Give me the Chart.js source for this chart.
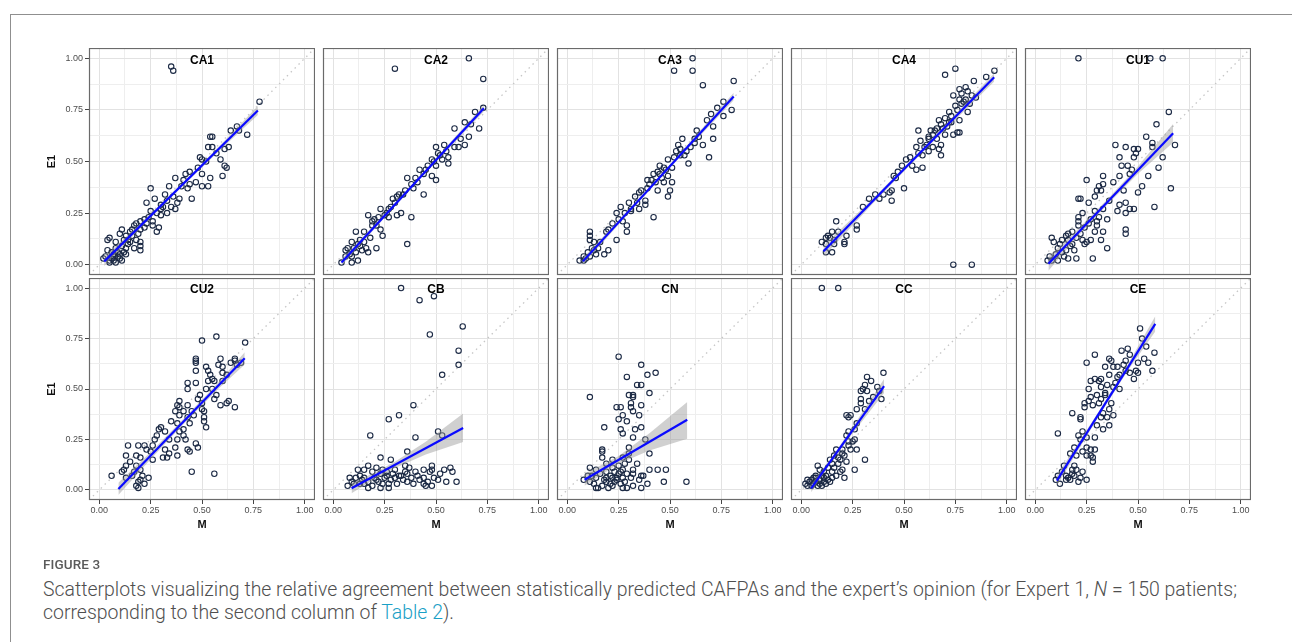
<!DOCTYPE html>
<html>
<head>
<meta charset="utf-8">
<script src="https://cdn.jsdelivr.net/npm/chart.js@4.4.1/dist/chart.umd.min.js"></script>
<style>
  body { margin: 0; background: #fff; width: 1292px; height: 642px; overflow: hidden; position: relative; }
  #frame { position: absolute; left: 10px; top: 14px; width: 1320px; height: 700px; border: 1px solid #8f8f8f; }
  canvas { position: absolute; }
  .fig-no { position: absolute; left: 43px; top: 556px; font: 500 13.5px "Roboto", "Noto Sans", sans-serif; color: #5a5a5a; letter-spacing: 0.1px; }
  .fig-text { position: absolute; left: 43px; top: 578px; font-family: "Roboto", "Noto Sans", sans-serif; font-weight: 300; font-size: 16px; line-height: 23px; color: #4f4f4f; white-space: nowrap; }
  .fig-text a { color: #1aa0c6; text-decoration: none; }
</style>
</head>
<body>
<div id="frame"></div>
<div id="panels"></div>
<div class="fig-no">FIGURE 3</div>
<div class="fig-text" id="caption"><span id="capLine1">Scatterplots visualizing the relative agreement between statistically predicted CAFPAs and the expert’s opinion (for Expert 1, <i>N</i> = 150 patients;</span><br>corresponding to the second column of <a>Table 2</a>).</div>

<script>
// axis ticks (major ones get labels)
const gridTicks = [0, 0.125, 0.25, 0.375, 0.5, 0.625, 0.75, 0.875, 1];
const majorTicks = [0, 0.25, 0.5, 0.75, 1];
const tickLabels = ['0.00', '0.25', '0.50', '0.75', '1.00'];
const axisRange = [-0.05, 1.05];
const identityLine = [-0.05, 1.05]; // x = y reference
const xTitle = 'M';
const yTitle = 'E1';

const panelNames = ['CA1', 'CA2', 'CA3', 'CA4', 'CU1', 'CU2', 'CB', 'CN', 'CC', 'CE'];

// [M, E1]
const ptsCA1 = [[0.35,0.96],[0.36,0.94],[0.78,0.79],[0.64,0.65],[0.67,0.67],[0.72,0.63],[0.54,0.62],[0.55,0.62],[0.53,0.57],[0.55,0.57],[0.63,0.57],[0.49,0.52],[0.50,0.51],[0.59,0.51],[0.61,0.48],[0.62,0.47],[0.60,0.43],[0.54,0.42],[0.50,0.38],[0.53,0.38],[0.42,0.44],[0.44,0.45],[0.44,0.39],[0.41,0.41],[0.37,0.42],[0.34,0.38],[0.25,0.37],[0.32,0.34],[0.27,0.32],[0.23,0.30],[0.38,0.30],[0.45,0.32],[0.35,0.28],[0.31,0.28],[0.30,0.27],[0.28,0.25],[0.24,0.23],[0.22,0.22],[0.20,0.21],[0.18,0.20],[0.17,0.19],[0.20,0.17],[0.28,0.16],[0.29,0.18],[0.15,0.16],[0.16,0.17],[0.11,0.17],[0.10,0.15],[0.13,0.14],[0.14,0.12],[0.20,0.11],[0.20,0.09],[0.20,0.07],[0.05,0.13],[0.04,0.12],[0.08,0.11],[0.11,0.09],[0.13,0.08],[0.17,0.08],[0.09,0.06],[0.06,0.06],[0.03,0.04],[0.02,0.03],[0.05,0.02],[0.07,0.02],[0.10,0.03],[0.11,0.02],[0.07,0.04],[0.05,0.01],[0.08,0.01],[0.10,0.05],[0.15,0.11],[0.18,0.12],[0.23,0.20],[0.26,0.21],[0.30,0.24],[0.33,0.25],[0.37,0.27],[0.39,0.32],[0.43,0.37],[0.47,0.40],[0.50,0.44],[0.57,0.54],[0.61,0.56],[0.68,0.65],[0.13,0.05],[0.08,0.08],[0.16,0.14],[0.26,0.19],[0.30,0.29],[0.07,0.05],[0.06,0.03],[0.09,0.04],[0.12,0.06],[0.04,0.07],[0.14,0.10],[0.12,0.12],[0.19,0.15],[0.22,0.18],[0.25,0.26],[0.33,0.31],[0.36,0.33],[0.40,0.38],[0.48,0.47],[0.52,0.50]];
const ptsCA2 = [[0.66,1.00],[0.30,0.95],[0.73,0.90],[0.73,0.76],[0.69,0.74],[0.64,0.69],[0.67,0.68],[0.59,0.66],[0.71,0.66],[0.66,0.62],[0.54,0.58],[0.50,0.57],[0.61,0.57],[0.64,0.58],[0.51,0.54],[0.52,0.53],[0.56,0.52],[0.48,0.51],[0.56,0.49],[0.50,0.48],[0.46,0.48],[0.42,0.46],[0.48,0.43],[0.50,0.41],[0.36,0.42],[0.40,0.42],[0.41,0.40],[0.39,0.37],[0.44,0.34],[0.31,0.33],[0.34,0.34],[0.30,0.30],[0.27,0.27],[0.25,0.24],[0.33,0.25],[0.31,0.24],[0.22,0.23],[0.19,0.21],[0.17,0.24],[0.23,0.27],[0.19,0.19],[0.38,0.23],[0.24,0.14],[0.36,0.10],[0.21,0.08],[0.15,0.16],[0.11,0.16],[0.13,0.12],[0.09,0.11],[0.15,0.11],[0.12,0.10],[0.07,0.08],[0.16,0.08],[0.14,0.07],[0.11,0.06],[0.09,0.04],[0.04,0.01],[0.09,0.01],[0.12,0.02],[0.06,0.04],[0.06,0.07],[0.17,0.06],[0.20,0.22],[0.23,0.17],[0.27,0.23],[0.29,0.32],[0.32,0.34],[0.44,0.44],[0.53,0.51],[0.49,0.50],[0.59,0.57],[0.62,0.61],[0.08,0.05],[0.10,0.08],[0.13,0.09],[0.18,0.13],[0.21,0.19],[0.26,0.25],[0.28,0.28],[0.35,0.36],[0.38,0.39],[0.45,0.46],[0.55,0.55]];
const ptsCA3 = [[0.61,1.00],[0.52,0.94],[0.61,0.94],[0.66,0.87],[0.81,0.89],[0.76,0.79],[0.80,0.75],[0.76,0.72],[0.73,0.76],[0.70,0.73],[0.68,0.70],[0.71,0.67],[0.63,0.65],[0.71,0.61],[0.64,0.62],[0.66,0.58],[0.69,0.52],[0.62,0.59],[0.56,0.61],[0.54,0.58],[0.53,0.55],[0.55,0.53],[0.57,0.53],[0.59,0.49],[0.49,0.51],[0.45,0.48],[0.48,0.46],[0.44,0.45],[0.42,0.44],[0.49,0.43],[0.51,0.40],[0.47,0.40],[0.43,0.40],[0.39,0.41],[0.39,0.37],[0.44,0.36],[0.50,0.36],[0.49,0.33],[0.35,0.35],[0.34,0.30],[0.30,0.30],[0.26,0.28],[0.38,0.29],[0.38,0.31],[0.35,0.27],[0.31,0.26],[0.28,0.25],[0.24,0.25],[0.22,0.20],[0.27,0.21],[0.29,0.19],[0.29,0.16],[0.24,0.12],[0.42,0.23],[0.19,0.16],[0.16,0.11],[0.20,0.07],[0.18,0.05],[0.11,0.16],[0.11,0.14],[0.11,0.12],[0.13,0.11],[0.12,0.08],[0.10,0.06],[0.08,0.04],[0.06,0.02],[0.08,0.02],[0.14,0.05],[0.11,0.04],[0.15,0.08],[0.31,0.27],[0.33,0.33],[0.41,0.41],[0.46,0.42],[0.52,0.52],[0.60,0.57],[0.62,0.61],[0.09,0.03],[0.13,0.07],[0.20,0.17],[0.25,0.22],[0.36,0.36],[0.40,0.39],[0.45,0.44],[0.47,0.47],[0.51,0.47],[0.55,0.56],[0.58,0.55]];
const ptsCA4 = [[0.75,0.95],[0.70,0.92],[0.94,0.94],[0.90,0.91],[0.84,0.89],[0.80,0.86],[0.77,0.85],[0.78,0.83],[0.81,0.84],[0.83,0.82],[0.74,0.82],[0.77,0.80],[0.85,0.81],[0.80,0.80],[0.75,0.77],[0.81,0.74],[0.72,0.74],[0.76,0.75],[0.73,0.72],[0.70,0.71],[0.77,0.70],[0.67,0.70],[0.68,0.68],[0.65,0.65],[0.63,0.65],[0.64,0.63],[0.62,0.62],[0.70,0.63],[0.74,0.63],[0.76,0.64],[0.77,0.64],[0.57,0.65],[0.66,0.61],[0.68,0.58],[0.67,0.56],[0.68,0.53],[0.64,0.57],[0.60,0.57],[0.58,0.60],[0.56,0.57],[0.57,0.54],[0.59,0.53],[0.62,0.55],[0.51,0.51],[0.49,0.48],[0.54,0.48],[0.59,0.47],[0.56,0.46],[0.45,0.43],[0.46,0.42],[0.50,0.37],[0.44,0.36],[0.43,0.35],[0.40,0.34],[0.36,0.34],[0.38,0.32],[0.44,0.31],[0.33,0.32],[0.30,0.28],[0.17,0.21],[0.27,0.19],[0.27,0.17],[0.18,0.16],[0.15,0.16],[0.22,0.14],[0.21,0.11],[0.21,0.10],[0.16,0.12],[0.13,0.14],[0.12,0.13],[0.10,0.11],[0.12,0.10],[0.16,0.10],[0.12,0.06],[0.15,0.06],[0.74,0.00],[0.83,0.00],[0.62,0.61],[0.71,0.67],[0.73,0.69],[0.78,0.78],[0.66,0.66],[0.69,0.66],[0.72,0.69],[0.79,0.79],[0.82,0.78],[0.61,0.58],[0.53,0.52],[0.47,0.45],[0.14,0.13]];
const ptsCU1 = [[0.21,1.00],[0.56,1.00],[0.62,1.00],[0.65,0.74],[0.59,0.68],[0.54,0.62],[0.68,0.58],[0.57,0.59],[0.57,0.57],[0.39,0.58],[0.44,0.57],[0.48,0.56],[0.50,0.56],[0.49,0.54],[0.48,0.52],[0.62,0.52],[0.41,0.52],[0.42,0.48],[0.45,0.48],[0.60,0.47],[0.46,0.44],[0.41,0.43],[0.33,0.43],[0.55,0.43],[0.25,0.41],[0.33,0.39],[0.31,0.38],[0.43,0.36],[0.32,0.36],[0.30,0.36],[0.52,0.38],[0.50,0.35],[0.66,0.37],[0.21,0.32],[0.22,0.32],[0.29,0.33],[0.26,0.30],[0.41,0.29],[0.44,0.30],[0.46,0.27],[0.48,0.27],[0.58,0.28],[0.33,0.27],[0.29,0.26],[0.40,0.26],[0.44,0.25],[0.23,0.25],[0.21,0.23],[0.21,0.21],[0.31,0.23],[0.35,0.22],[0.26,0.20],[0.30,0.21],[0.30,0.19],[0.21,0.19],[0.18,0.16],[0.16,0.15],[0.15,0.14],[0.22,0.15],[0.29,0.16],[0.33,0.16],[0.44,0.17],[0.44,0.15],[0.32,0.12],[0.27,0.12],[0.23,0.12],[0.25,0.11],[0.24,0.10],[0.35,0.08],[0.08,0.13],[0.09,0.11],[0.11,0.08],[0.13,0.06],[0.15,0.07],[0.17,0.09],[0.19,0.07],[0.20,0.03],[0.28,0.03],[0.16,0.03],[0.11,0.02],[0.07,0.04],[0.06,0.02],[0.08,0.02],[0.13,0.12],[0.16,0.12],[0.10,0.05],[0.12,0.10],[0.14,0.04],[0.18,0.10],[0.20,0.13],[0.24,0.18],[0.27,0.22],[0.36,0.31],[0.38,0.40],[0.47,0.46]];
const ptsCU2 = [[0.71,0.73],[0.57,0.76],[0.50,0.74],[0.47,0.65],[0.47,0.64],[0.47,0.63],[0.59,0.65],[0.66,0.64],[0.66,0.65],[0.64,0.63],[0.60,0.61],[0.58,0.62],[0.67,0.62],[0.69,0.63],[0.52,0.61],[0.47,0.59],[0.53,0.59],[0.54,0.57],[0.60,0.58],[0.62,0.57],[0.53,0.54],[0.43,0.53],[0.47,0.53],[0.56,0.54],[0.60,0.54],[0.43,0.50],[0.49,0.47],[0.52,0.50],[0.55,0.50],[0.57,0.47],[0.56,0.45],[0.63,0.44],[0.62,0.43],[0.59,0.42],[0.66,0.41],[0.50,0.43],[0.50,0.40],[0.51,0.39],[0.51,0.36],[0.51,0.34],[0.52,0.31],[0.39,0.44],[0.39,0.41],[0.38,0.42],[0.43,0.42],[0.45,0.39],[0.41,0.39],[0.37,0.39],[0.39,0.37],[0.43,0.36],[0.46,0.37],[0.35,0.34],[0.38,0.33],[0.41,0.30],[0.39,0.29],[0.41,0.27],[0.38,0.25],[0.42,0.25],[0.47,0.23],[0.48,0.21],[0.43,0.20],[0.44,0.19],[0.30,0.31],[0.29,0.30],[0.27,0.25],[0.32,0.29],[0.34,0.25],[0.37,0.21],[0.38,0.17],[0.34,0.18],[0.31,0.16],[0.32,0.20],[0.33,0.16],[0.26,0.22],[0.25,0.19],[0.23,0.20],[0.19,0.22],[0.14,0.22],[0.20,0.16],[0.22,0.22],[0.26,0.15],[0.18,0.17],[0.13,0.17],[0.15,0.14],[0.13,0.12],[0.12,0.10],[0.18,0.12],[0.20,0.10],[0.21,0.07],[0.24,0.06],[0.20,0.05],[0.19,0.04],[0.22,0.03],[0.18,0.02],[0.19,0.01],[0.16,0.07],[0.13,0.06],[0.11,0.09],[0.06,0.07],[0.45,0.09],[0.56,0.08],[0.17,0.09],[0.28,0.27],[0.44,0.33],[0.48,0.45],[0.55,0.55]];
const ptsCB = [[0.33,1.00],[0.42,0.94],[0.49,0.96],[0.63,0.81],[0.47,0.77],[0.61,0.69],[0.61,0.62],[0.53,0.57],[0.39,0.42],[0.27,0.35],[0.32,0.37],[0.18,0.27],[0.40,0.26],[0.51,0.29],[0.53,0.27],[0.36,0.19],[0.23,0.16],[0.28,0.15],[0.35,0.12],[0.37,0.11],[0.40,0.09],[0.44,0.10],[0.48,0.12],[0.48,0.10],[0.47,0.09],[0.54,0.10],[0.57,0.11],[0.58,0.09],[0.49,0.06],[0.51,0.05],[0.55,0.04],[0.60,0.04],[0.45,0.02],[0.48,0.02],[0.44,0.03],[0.42,0.05],[0.38,0.06],[0.36,0.04],[0.34,0.05],[0.32,0.07],[0.30,0.06],[0.28,0.05],[0.27,0.03],[0.25,0.06],[0.23,0.08],[0.22,0.04],[0.20,0.06],[0.19,0.02],[0.17,0.01],[0.17,0.04],[0.15,0.06],[0.14,0.05],[0.12,0.10],[0.13,0.07],[0.11,0.06],[0.09,0.04],[0.07,0.02],[0.08,0.06],[0.17,0.12],[0.21,0.11],[0.24,0.10],[0.26,0.09],[0.29,0.08],[0.35,0.09],[0.36,0.08],[0.23,0.01],[0.27,0.01],[0.33,0.07],[0.41,0.07],[0.44,0.06],[0.15,0.10],[0.19,0.09],[0.15,0.03],[0.24,0.03],[0.30,0.10],[0.10,0.03],[0.13,0.03],[0.21,0.05],[0.26,0.07],[0.31,0.03],[0.39,0.03],[0.46,0.04],[0.52,0.08]];
const ptsCN = [[0.25,0.66],[0.36,0.62],[0.29,0.56],[0.39,0.57],[0.43,0.58],[0.34,0.52],[0.36,0.52],[0.11,0.46],[0.30,0.47],[0.32,0.46],[0.32,0.47],[0.40,0.48],[0.31,0.43],[0.36,0.42],[0.24,0.41],[0.26,0.41],[0.31,0.41],[0.32,0.39],[0.25,0.35],[0.27,0.37],[0.29,0.34],[0.35,0.37],[0.26,0.30],[0.27,0.28],[0.18,0.31],[0.33,0.30],[0.36,0.31],[0.32,0.26],[0.38,0.25],[0.17,0.20],[0.17,0.19],[0.17,0.16],[0.40,0.18],[0.22,0.15],[0.27,0.16],[0.30,0.18],[0.30,0.15],[0.28,0.13],[0.25,0.12],[0.22,0.11],[0.19,0.13],[0.11,0.11],[0.14,0.10],[0.10,0.07],[0.08,0.05],[0.11,0.04],[0.14,0.06],[0.16,0.08],[0.19,0.06],[0.19,0.09],[0.21,0.07],[0.23,0.09],[0.24,0.06],[0.26,0.09],[0.27,0.10],[0.27,0.06],[0.29,0.08],[0.31,0.06],[0.32,0.08],[0.32,0.10],[0.36,0.07],[0.37,0.07],[0.35,0.05],[0.40,0.10],[0.44,0.10],[0.48,0.10],[0.47,0.04],[0.58,0.04],[0.39,0.03],[0.36,0.01],[0.32,0.02],[0.29,0.01],[0.26,0.03],[0.24,0.05],[0.22,0.02],[0.20,0.01],[0.17,0.02],[0.15,0.01],[0.14,0.01],[0.13,0.03],[0.27,0.01],[0.23,0.04],[0.19,0.04],[0.22,0.06],[0.12,0.07],[0.18,0.05],[0.21,0.03],[0.25,0.08],[0.28,0.04],[0.30,0.21],[0.34,0.13]];
const ptsCC = [[0.10,1.00],[0.18,1.00],[0.40,0.58],[0.32,0.56],[0.34,0.54],[0.31,0.52],[0.30,0.50],[0.32,0.49],[0.29,0.49],[0.37,0.51],[0.38,0.49],[0.39,0.45],[0.35,0.46],[0.33,0.44],[0.29,0.45],[0.29,0.43],[0.27,0.40],[0.31,0.40],[0.22,0.37],[0.23,0.36],[0.24,0.37],[0.27,0.33],[0.23,0.29],[0.26,0.25],[0.23,0.24],[0.24,0.20],[0.27,0.20],[0.23,0.22],[0.20,0.20],[0.17,0.20],[0.16,0.17],[0.21,0.17],[0.31,0.15],[0.19,0.15],[0.14,0.15],[0.15,0.13],[0.18,0.13],[0.26,0.10],[0.21,0.06],[0.19,0.09],[0.17,0.07],[0.15,0.06],[0.12,0.07],[0.08,0.12],[0.09,0.10],[0.11,0.09],[0.07,0.07],[0.06,0.06],[0.04,0.04],[0.02,0.03],[0.03,0.05],[0.05,0.02],[0.07,0.04],[0.09,0.05],[0.11,0.04],[0.12,0.03],[0.08,0.02],[0.10,0.02],[0.14,0.04],[0.07,0.06],[0.13,0.11],[0.15,0.09],[0.20,0.10],[0.22,0.14],[0.25,0.24],[0.22,0.27],[0.11,0.06],[0.05,0.05],[0.03,0.02],[0.06,0.03],[0.09,0.03],[0.10,0.07],[0.13,0.05],[0.16,0.11],[0.18,0.16],[0.20,0.18],[0.26,0.30]];
const ptsCE = [[0.51,0.80],[0.52,0.75],[0.54,0.71],[0.58,0.68],[0.45,0.70],[0.46,0.67],[0.42,0.69],[0.36,0.65],[0.37,0.64],[0.29,0.67],[0.25,0.63],[0.40,0.61],[0.38,0.61],[0.34,0.61],[0.43,0.62],[0.50,0.63],[0.53,0.65],[0.55,0.63],[0.44,0.59],[0.46,0.58],[0.49,0.59],[0.50,0.58],[0.57,0.59],[0.48,0.55],[0.41,0.57],[0.36,0.57],[0.32,0.55],[0.29,0.55],[0.31,0.54],[0.27,0.54],[0.39,0.53],[0.41,0.50],[0.38,0.51],[0.26,0.50],[0.32,0.51],[0.34,0.48],[0.34,0.47],[0.32,0.45],[0.27,0.46],[0.31,0.43],[0.24,0.43],[0.24,0.41],[0.37,0.43],[0.28,0.42],[0.36,0.40],[0.33,0.38],[0.38,0.37],[0.35,0.36],[0.18,0.38],[0.22,0.36],[0.22,0.35],[0.32,0.36],[0.33,0.30],[0.36,0.32],[0.30,0.32],[0.23,0.29],[0.11,0.28],[0.29,0.26],[0.25,0.26],[0.22,0.25],[0.19,0.21],[0.25,0.21],[0.27,0.20],[0.29,0.20],[0.23,0.19],[0.25,0.17],[0.27,0.17],[0.28,0.16],[0.28,0.14],[0.20,0.17],[0.17,0.18],[0.14,0.12],[0.19,0.12],[0.18,0.10],[0.20,0.10],[0.23,0.09],[0.22,0.06],[0.25,0.05],[0.21,0.04],[0.18,0.08],[0.16,0.06],[0.17,0.05],[0.15,0.07],[0.13,0.09],[0.11,0.07],[0.12,0.03],[0.10,0.05],[0.15,0.05],[0.19,0.07],[0.26,0.44],[0.30,0.47],[0.35,0.52],[0.40,0.56],[0.44,0.64],[0.21,0.27]];

// linear fit endpoints [M, E1]
const fitCA1 = [[0.024,0.016],[0.772,0.747]];
const fitCA2 = [[0.040,0.011],[0.733,0.758]];
const fitCA3 = [[0.076,0.016],[0.810,0.815]];
const fitCA4 = [[0.108,0.065],[0.939,0.908]];
const fitCU1 = [[0.064,0.005],[0.671,0.637]];
const fitCU2 = [[0.093,0.005],[0.708,0.652]];
const fitCB  = [[0.089,0.008],[0.632,0.307]];
const fitCN  = [[0.084,0.050],[0.584,0.348]];
const fitCC  = [[0.048,0.008],[0.403,0.514]];
const fitCE  = [[0.105,0.046],[0.584,0.823]];

// confidence band [M, lower, upper]
const bandCA1 = [[0.024,-0.006,0.038],[0.2,0.176,0.200],[0.4,0.375,0.391],[0.6,0.567,0.591],[0.772,0.725,0.769]];
const bandCA2 = [[0.040,-0.005,0.027],[0.25,0.228,0.246],[0.45,0.445,0.461],[0.733,0.742,0.774]];
const bandCA3 = [[0.076,0.000,0.032],[0.3,0.251,0.269],[0.5,0.470,0.486],[0.810,0.797,0.833]];
const bandCA4 = [[0.108,0.038,0.092],[0.35,0.298,0.322],[0.6,0.555,0.573],[0.939,0.888,0.928]];
const bandCU1 = [[0.064,-0.030,0.040],[0.2,0.129,0.165],[0.35,0.290,0.316],[0.5,0.441,0.477],[0.671,0.592,0.682]];
const bandCU2 = [[0.093,-0.025,0.035],[0.25,0.152,0.188],[0.42,0.336,0.362],[0.58,0.501,0.533],[0.708,0.622,0.682]];
const bandCB  = [[0.089,-0.017,0.033],[0.2,0.053,0.085],[0.3,0.109,0.139],[0.45,0.175,0.239],[0.632,0.237,0.378]];
const bandCN  = [[0.084,0.020,0.080],[0.25,0.130,0.168],[0.4,0.195,0.281],[0.584,0.254,0.436]];
const bandCC  = [[0.048,-0.012,0.028],[0.15,0.143,0.163],[0.25,0.280,0.312],[0.403,0.480,0.550]];
const bandCE  = [[0.105,0.020,0.072],[0.3,0.350,0.374],[0.45,0.590,0.622],[0.584,0.785,0.861]];

const panelPoints = [ptsCA1, ptsCA2, ptsCA3, ptsCA4, ptsCU1, ptsCU2, ptsCB, ptsCN, ptsCC, ptsCE];
const panelFits = [fitCA1, fitCA2, fitCA3, fitCA4, fitCU1, fitCU2, fitCB, fitCN, fitCC, fitCE];
const panelBands = [bandCA1, bandCA2, bandCA3, bandCA4, bandCU1, bandCU2, bandCB, bandCN, bandCC, bandCE];

// layout (px)
const colLeft = [89, 323, 557, 791, 1025];
const rowTop = [48, 278];
const rowHeight = [227, 222];
const PANEL_W = 226;
const AXIS_W = 48;
const AXIS_H = 36;

const FONT = '"Liberation Sans", Arial, sans-serif';

function isMajor(v) {
  return majorTicks.some(m => Math.abs(m - v) < 1e-6);
}
function labelFor(v) {
  const i = majorTicks.findIndex(m => Math.abs(m - v) < 1e-6);
  return i >= 0 ? tickLabels[i] : '';
}

const panelDecor = {
  id: 'panelDecor',
  afterDraw(chart, args, opts) {
    const { ctx, chartArea: a, scales } = chart;
    ctx.save();
    ctx.strokeStyle = '#6a6a6a';
    ctx.lineWidth = 1.2;
    ctx.strokeRect(a.left + 0.5, a.top + 0.5, a.width - 1, a.height - 1);
    ctx.fillStyle = '#000';
    ctx.font = 'bold 12px ' + FONT;
    ctx.textAlign = 'center';
    ctx.textBaseline = 'middle';
    ctx.fillText(opts.label, scales.x.getPixelForValue(0.5), scales.y.getPixelForValue(0.99));
    ctx.restore();
  }
};

function axisOptions(showLabels, showTitle, title, isX) {
  return {
    type: 'linear',
    min: axisRange[0],
    max: axisRange[1],
    afterBuildTicks: ax => { ax.ticks = gridTicks.map(v => ({ value: v })); },
    afterFit: ax => {
      if (isX) ax.height = AXIS_H; else ax.width = AXIS_W;
      ax.paddingTop = 0; ax.paddingBottom = 0; ax.paddingLeft = 0; ax.paddingRight = 0;
    },
    border: { display: false },
    grid: {
      color: c => (c.tick && isMajor(c.tick.value)) ? '#e2e2e2' : '#eeeeee',
      lineWidth: 1,
      drawTicks: showLabels,
      tickLength: 4,
      tickWidth: 1,
      tickColor: c => (c.tick && isMajor(c.tick.value)) ? '#444' : 'rgba(0,0,0,0)'
    },
    ticks: {
      display: showLabels,
      autoSkip: false,
      maxRotation: 0,
      padding: isX ? 1 : 2,
      color: '#4d4d4d',
      font: { family: FONT, size: 9 },
      callback: v => labelFor(v)
    },
    title: {
      display: showTitle,
      text: title,
      color: '#111',
      font: { family: FONT, size: 11, weight: 'bold' },
      padding: { top: 4, bottom: 4 }
    }
  };
}

panelNames.forEach((name, i) => {
  const col = i % 5, row = Math.floor(i / 5);
  const cv = document.createElement('canvas');
  const w = AXIS_W + PANEL_W, h = rowHeight[row] + AXIS_H;
  cv.width = w; cv.height = h;
  cv.style.width = w + 'px'; cv.style.height = h + 'px';
  cv.style.left = (colLeft[col] - AXIS_W) + 'px';
  cv.style.top = rowTop[row] + 'px';
  document.getElementById('panels').appendChild(cv);

  const pts = panelPoints[i], fit = panelFits[i], band = panelBands[i];

  new Chart(cv.getContext('2d'), {
    type: 'scatter',
    data: {
      datasets: [
        {
          label: 'fit',
          data: fit.map(p => ({ x: p[0], y: p[1] })),
          showLine: true, pointRadius: 0,
          borderColor: '#0a0aff', borderWidth: 2.2,
          order: 0
        },
        {
          label: 'band low',
          data: band.map(b => ({ x: b[0], y: b[1] })),
          showLine: true, pointRadius: 0, borderWidth: 0,
          borderColor: 'rgba(0,0,0,0)', fill: false,
          order: 1
        },
        {
          label: 'band high',
          data: band.map(b => ({ x: b[0], y: b[2] })),
          showLine: true, pointRadius: 0, borderWidth: 0,
          borderColor: 'rgba(0,0,0,0)',
          fill: '-1', backgroundColor: 'rgba(150,150,150,0.45)',
          order: 1
        },
        {
          label: name,
          data: pts.map(p => ({ x: p[0], y: p[1] })),
          pointRadius: 2.7, borderWidth: 1.1,
          borderColor: '#1c2a45', backgroundColor: 'rgba(255,255,255,0)',
          order: 2
        },
        {
          label: 'identity',
          data: identityLine.map(v => ({ x: v, y: v })),
          showLine: true, pointRadius: 0,
          borderColor: '#c6c6c6', borderWidth: 1.3, borderDash: [1.5, 4],
          order: 3
        }
      ]
    },
    options: {
      responsive: false,
      animation: false,
      layout: { padding: 0, autoPadding: false },
      events: [],
      plugins: {
        legend: { display: false },
        tooltip: { enabled: false },
        panelDecor: { label: name }
      },
      scales: {
        x: axisOptions(row === 1, row === 1, xTitle, true),
        y: axisOptions(col === 0, col === 0, yTitle, false)
      }
    },
    plugins: [panelDecor]
  });
});

// fit the first caption line to the reference width
const line1 = document.getElementById('capLine1');
const cap = document.getElementById('caption');
const wNow = line1.getBoundingClientRect().width;
if (wNow > 0) cap.style.fontSize = (16 * 1194 / wNow).toFixed(2) + 'px';
</script>
</body>
</html>
